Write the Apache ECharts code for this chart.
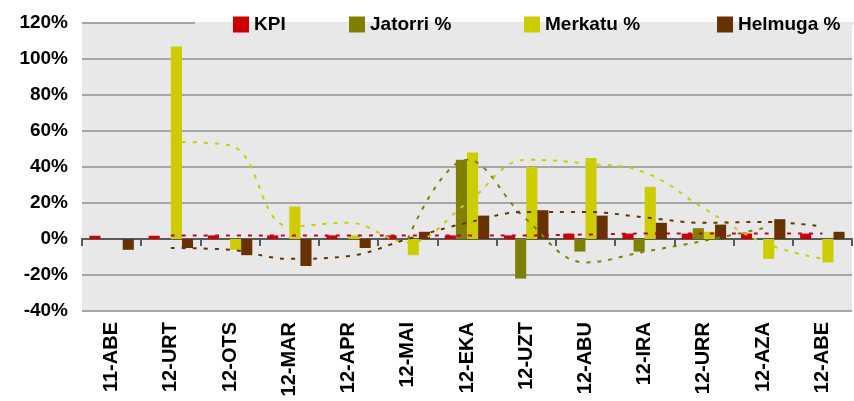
<!DOCTYPE html>
<html>
<head>
<meta charset="utf-8">
<script src="https://cdn.jsdelivr.net/npm/echarts@6/dist/echarts.min.js"></script>
<style>
  html, body { margin: 0; padding: 0; background: #fff; }
  #chart { width: 854px; height: 401px; }
</style>
</head>
<body>
<div id="chart"></div>
<script>
// months (basque abbreviations)
const categories = ['11-ABE', '12-URT', '12-OTS', '12-MAR', '12-APR', '12-MAI', '12-EKA',
  '12-UZT', '12-ABU', '12-IRA', '12-URR', '12-AZA', '12-ABE'];

// bar values, %
const kpi = [1.8, 1.8, 2, 2, 2, 2, 2, 2, 3, 3, 3, 3, 3];
const jatorri = [null, null, null, null, null, null, 44, -22, -7, -7, 6, null, null];
const merkatu = [null, 107, -6, 18, 2, -9, 48, 40, 45, 29, 4, -11, -13];
const helmuga = [-6, -5, -9, -15, -5, 4, 13, 16, 13, 9, 8, 11, 4];

// dotted trend lines
const kpiTrend = [null, 2, 2, 2, 2, 2, 2, 2, 2.5, 3, 3, 3, 3];
const jatorriTrend = [null, null, null, null, null, 0, 44, 11, -13, -7, -1, 6, null];
const merkatuTrend = [null, 54, 52, 7, 9, -2, 20, 44, 42, 37, 17, -2, -11];
const helmugaTrend = [null, -5, -6, -11, -9.5, 0, 9, 15, 15, 12, 9, 9.5, 7];

const yTicks = { min: -40, max: 120, interval: 20 };

const font = "'Liberation Sans', Arial, sans-serif";
const colors = { kpi: '#cc0000', jatorri: '#808000', merkatu: '#cccc00', helmuga: '#663300' };

const chart = echarts.init(document.getElementById('chart'));

const legendBase = {
  top: 10,
  itemWidth: 16,
  itemHeight: 16,
  itemGap: 0,
  icon: 'rect',
  textStyle: { fontFamily: font, fontWeight: 'bold', fontSize: 19, color: '#000' }
};

const barSeries = (name, data, color) => ({
  name,
  type: 'bar',
  data,
  barGap: 0,
  barCategoryGap: '25%',
  itemStyle: { color },
  emphasis: { disabled: true }
});

const trendSeries = (name, data, color) => ({
  name,
  type: 'line',
  data,
  smooth: 0.4,
  symbol: 'none',
  connectNulls: false,
  lineStyle: { color, width: 2, type: [4, 7] },
  z: 3,
  emphasis: { disabled: true }
});

const option = {
  animation: false,
  grid: {
    left: 82, right: 2, top: 23, bottom: 90,
    show: true, backgroundColor: '#e8e8e8', borderWidth: 0
  },
  legend: [
    { ...legendBase, left: 228, data: ['KPI'] },
    { ...legendBase, left: 344, data: ['Jatorri %'] },
    { ...legendBase, left: 519, data: ['Merkatu %'] },
    { ...legendBase, left: 712, data: ['Helmuga %'] }
  ],
  xAxis: [
    {
      type: 'category',
      data: categories,
      position: 'bottom',
      axisLine: { show: false, onZero: false },
      axisTick: { show: false },
      axisLabel: {
        rotate: 90,
        margin: 11,
        fontFamily: font,
        fontWeight: 'bold',
        fontSize: 20,
        color: '#000'
      }
    },
    {
      type: 'category',
      data: categories,
      position: 'bottom',
      axisLine: { show: true, onZero: true, lineStyle: { color: '#5a5a5a', width: 2 } },
      axisTick: { show: true, length: 7, lineStyle: { color: '#5a5a5a', width: 2 } },
      axisLabel: { show: false }
    }
  ],
  yAxis: {
    type: 'value',
    min: yTicks.min,
    max: yTicks.max,
    interval: yTicks.interval,
    axisLine: { show: false },
    axisTick: { show: false },
    splitLine: { lineStyle: { color: '#a6a6a6', width: 2 } },
    axisLabel: {
      formatter: '{value}%',
      margin: 14,
      fontFamily: font,
      fontWeight: 'bold',
      fontSize: 19,
      color: '#000'
    }
  },
  // the legend box hides the top gridline in the original
  graphic: [{
    type: 'rect',
    z: 1,
    shape: { x: 195, y: 22, width: 660, height: 3 },
    style: { fill: '#e8e8e8' }
  }],
  series: [
    barSeries('KPI', kpi, colors.kpi),
    barSeries('Jatorri %', jatorri, colors.jatorri),
    barSeries('Merkatu %', merkatu, colors.merkatu),
    barSeries('Helmuga %', helmuga, colors.helmuga),
    trendSeries('KPI trend', kpiTrend, '#c0002c'),
    trendSeries('Jatorri trend', jatorriTrend, colors.jatorri),
    trendSeries('Merkatu trend', merkatuTrend, colors.merkatu),
    trendSeries('Helmuga trend', helmugaTrend, colors.helmuga)
  ]
};

chart.setOption(option);
</script>
</body>
</html>
